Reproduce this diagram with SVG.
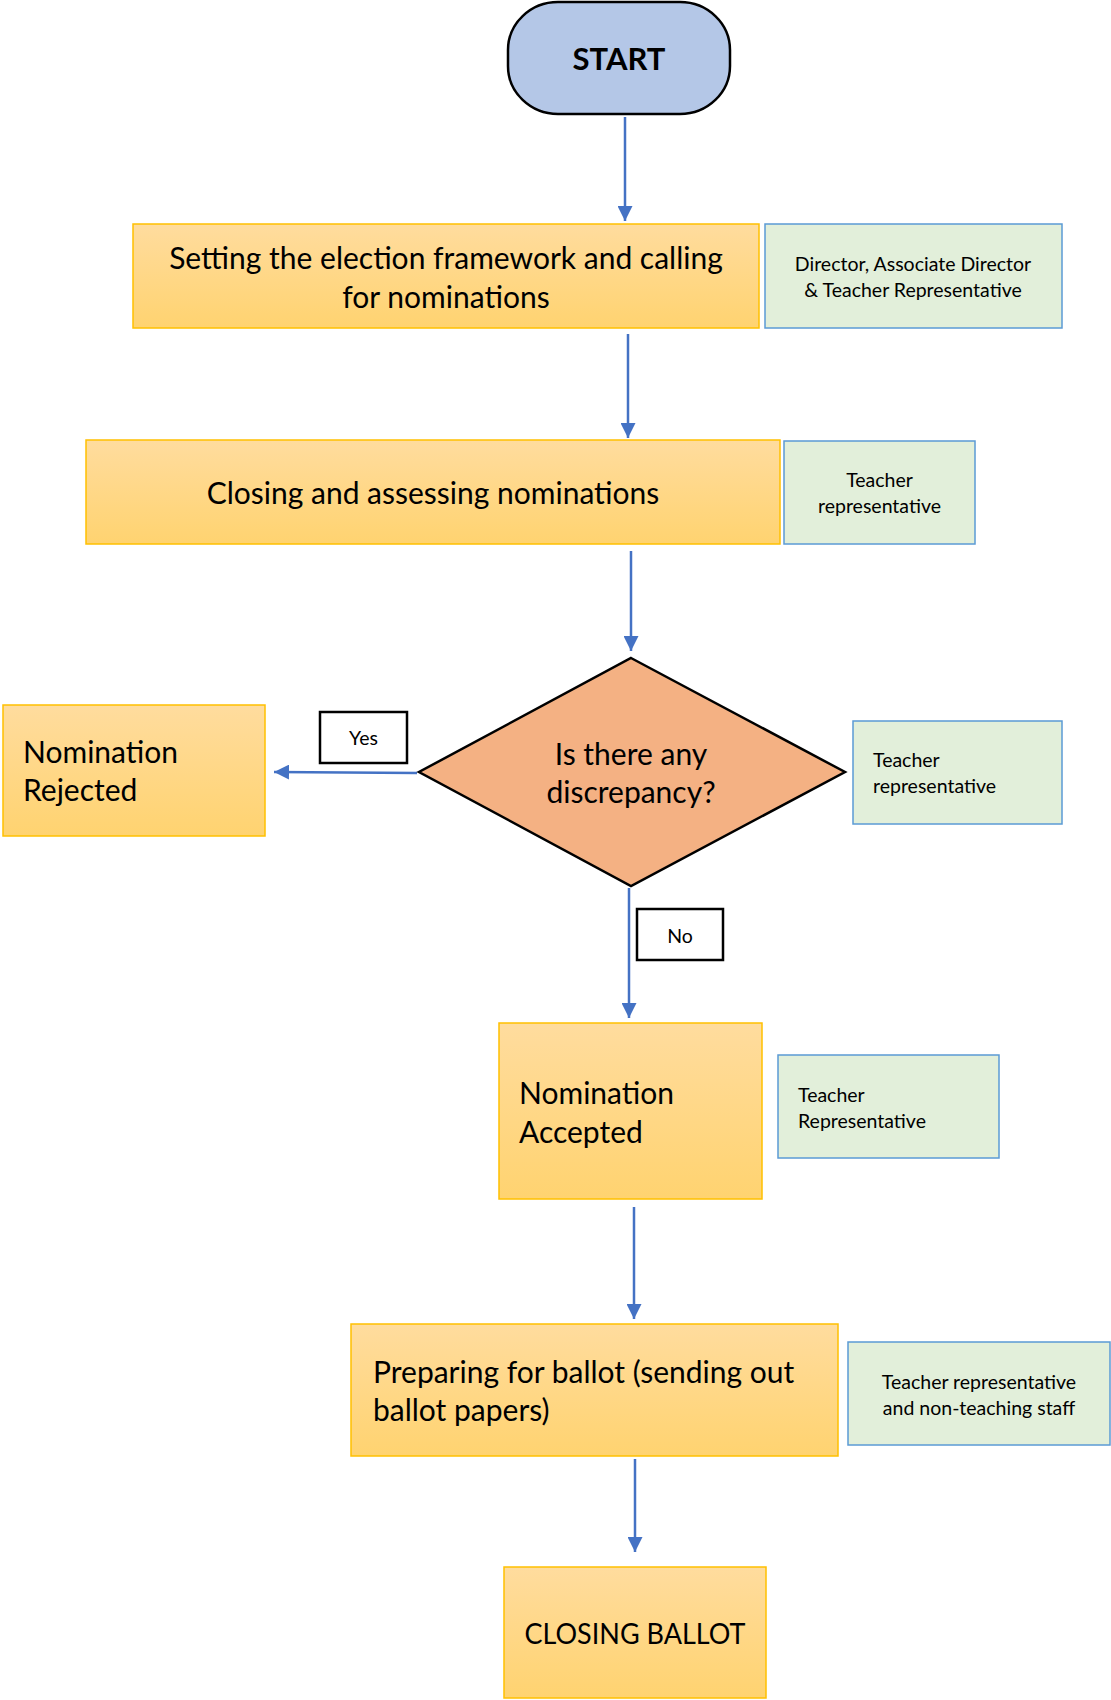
<svg xmlns="http://www.w3.org/2000/svg" width="1111" height="1700" viewBox="0 0 1111 1700">
  <style>
    text { font-family: Lato, "Liberation Sans", sans-serif; fill: #000; }
    .step { stroke: #FFC000; stroke-width: 1.5; }
    .role { fill: #E2EFDA; stroke: #5B9BD5; stroke-width: 1.5; }
    .tag { fill: #fff; stroke: #000; stroke-width: 2.5; }
    .big { font-size: 30px; }
    .small { font-size: 19.5px; }
    .mid { text-anchor: middle; }
    .flow { stroke: #4472C4; stroke-width: 2.5; fill: none; marker-end: url(#arrow); }
  </style>
  <defs>
    <linearGradient id="gold" x1="0" y1="0" x2="0" y2="1">
      <stop offset="0" stop-color="#FFDC9E"/>
      <stop offset="1" stop-color="#FFD370"/>
    </linearGradient>
    <marker id="arrow" viewBox="0 0 15 15" refX="15" refY="7.5" markerWidth="15" markerHeight="15" markerUnits="userSpaceOnUse" orient="auto">
      <path d="M0,0 L15,7.5 L0,15 z" fill="#4472C4"/>
    </marker>
  </defs>

  <rect width="1111" height="1700" fill="#fff"/>

  <!-- connectors -->
  <g id="connectors">
    <line class="flow" x1="625" y1="117" x2="625" y2="221"/>
    <line class="flow" x1="628" y1="334" x2="628" y2="438"/>
    <line class="flow" x1="631" y1="551" x2="631" y2="651"/>
    <line class="flow" x1="417" y1="773" x2="274" y2="772"/>
    <line class="flow" x1="629" y1="888" x2="629" y2="1018"/>
    <line class="flow" x1="634" y1="1207" x2="634" y2="1319"/>
    <line class="flow" x1="635" y1="1459" x2="635" y2="1552"/>
  </g>

  <g id="start">
    <rect x="508" y="2" width="222" height="112" rx="50" ry="48" fill="#B4C7E7" stroke="#000" stroke-width="2.5"/>
    <text class="mid" x="619" y="70" font-size="31" font-weight="bold">START</text>
  </g>

  <g id="setting-framework">
    <rect class="step" x="133" y="224" width="626" height="104" fill="url(#gold)"/>
    <text class="big mid" x="446" y="269">Setting the election framework and calling</text>
    <text class="big mid" x="446" y="308">for nominations</text>
  </g>
  <g id="role-setting">
    <rect class="role" x="765" y="224" width="297" height="104"/>
    <text class="small mid" x="913" y="271">Director, Associate Director</text>
    <text class="small mid" x="913" y="297">&amp; Teacher Representative</text>
  </g>

  <g id="closing-assessing">
    <rect class="step" x="86" y="440" width="694" height="104" fill="url(#gold)"/>
    <text class="big mid" x="433" y="504">Closing and assessing nominations</text>
  </g>
  <g id="role-closing">
    <rect class="role" x="784" y="441" width="191" height="103"/>
    <text class="small mid" x="879.5" y="487">Teacher</text>
    <text class="small mid" x="879.5" y="513">representative</text>
  </g>

  <g id="discrepancy">
    <polygon points="631,658 845,772 631,886 419,772" fill="#F4B183" stroke="#000" stroke-width="2.5" stroke-linejoin="miter"/>
    <text class="big mid" x="631" y="765">Is there any</text>
    <text class="big mid" x="631" y="803">discrepancy?</text>
  </g>
  <g id="role-discrepancy">
    <rect class="role" x="853" y="721" width="209" height="103"/>
    <text class="small" x="873" y="767">Teacher</text>
    <text class="small" x="873" y="793">representative</text>
  </g>

  <g id="label-yes">
    <rect class="tag" x="320" y="712" width="87" height="51"/>
    <text class="small mid" x="363.5" y="745">Yes</text>
  </g>
  <g id="nomination-rejected">
    <rect class="step" x="3" y="705" width="262" height="131" fill="url(#gold)"/>
    <text class="big" x="23" y="763">Nomination</text>
    <text class="big" x="23" y="801">Rejected</text>
  </g>

  <g id="label-no">
    <rect class="tag" x="637" y="909" width="86" height="51"/>
    <text class="small mid" x="680" y="943">No</text>
  </g>
  <g id="nomination-accepted">
    <rect class="step" x="499" y="1023" width="263" height="176" fill="url(#gold)"/>
    <text class="big" x="519" y="1104">Nomination</text>
    <text class="big" x="519" y="1143">Accepted</text>
  </g>
  <g id="role-accepted">
    <rect class="role" x="778" y="1055" width="221" height="103"/>
    <text class="small" x="798" y="1102">Teacher</text>
    <text class="small" x="798" y="1128">Representative</text>
  </g>

  <g id="preparing-ballot">
    <rect class="step" x="351" y="1324" width="487" height="132" fill="url(#gold)"/>
    <text class="big" x="373" y="1383">Preparing for ballot (sending out</text>
    <text class="big" x="373" y="1421">ballot papers)</text>
  </g>
  <g id="role-preparing">
    <rect class="role" x="848" y="1342" width="262" height="103"/>
    <text class="small mid" x="979" y="1389">Teacher representative</text>
    <text class="small mid" x="979" y="1415">and non-teaching staff</text>
  </g>

  <g id="closing-ballot">
    <rect class="step" x="504" y="1567" width="262" height="131" fill="url(#gold)"/>
    <text class="mid" x="635" y="1644" font-size="29" textLength="221" lengthAdjust="spacingAndGlyphs">CLOSING BALLOT</text>
  </g>
</svg>
